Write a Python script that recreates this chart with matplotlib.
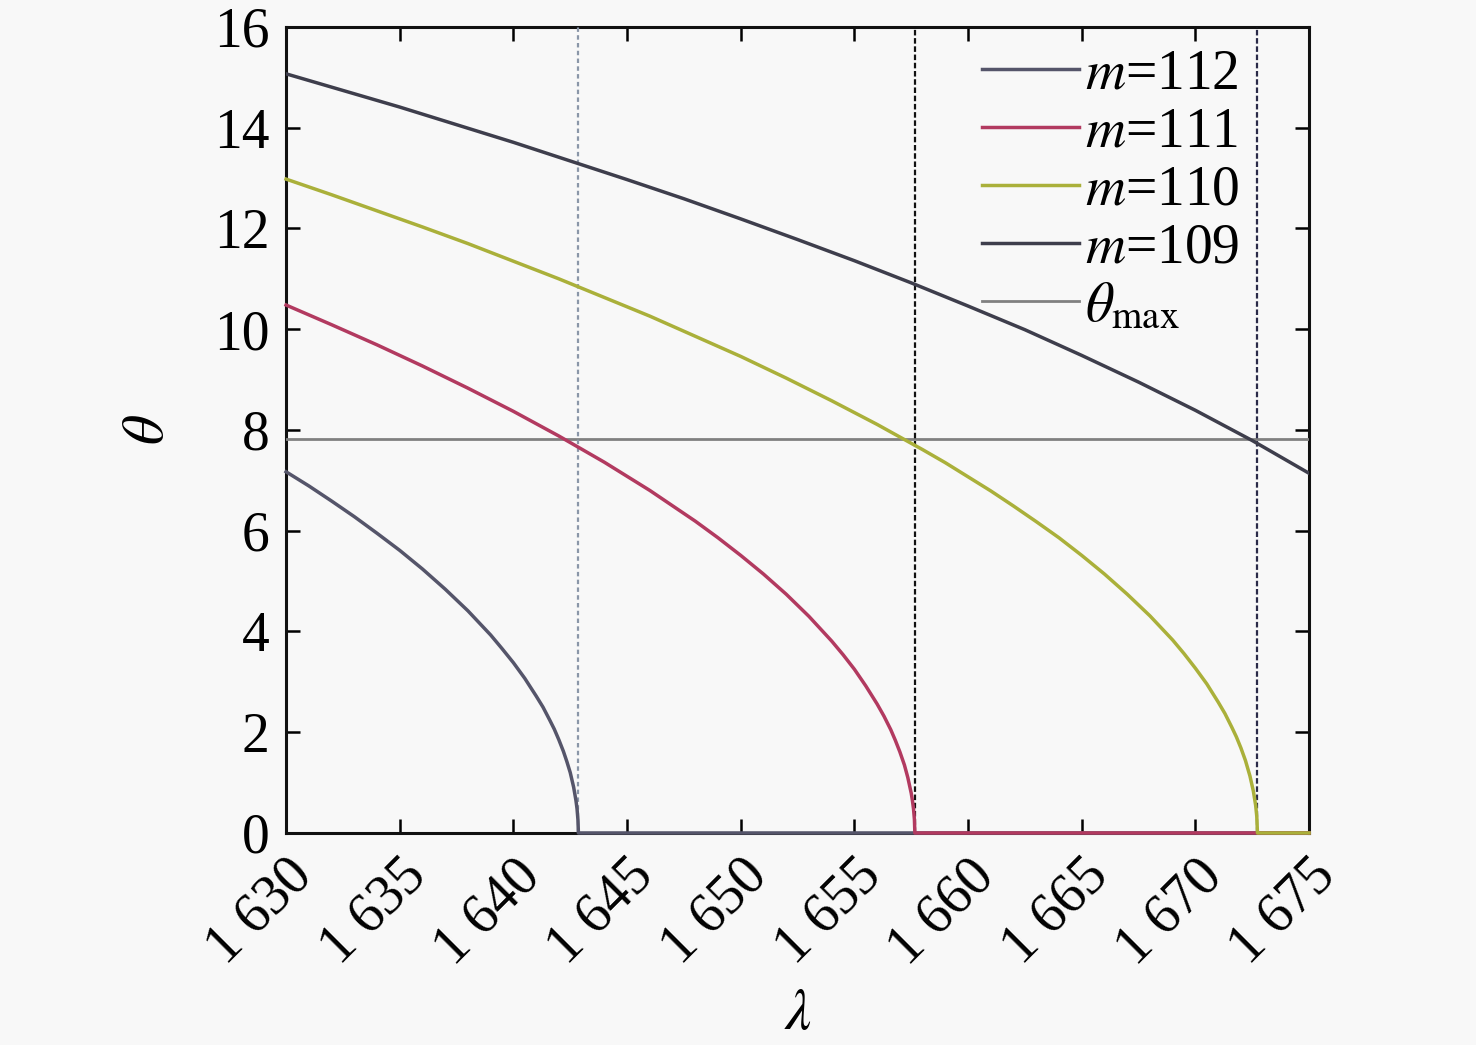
import matplotlib
matplotlib.use('Agg')
import matplotlib.pyplot as plt
from matplotlib.ticker import FuncFormatter

plt.rcParams['font.family'] = ['Liberation Serif', 'DejaVu Serif']
plt.rcParams['mathtext.fontset'] = 'stix'

# readings from the chart (lambda, theta)
lam_112 = [1630, 1631, 1632, 1633, 1634, 1635, 1636, 1637, 1638, 1638.5, 1639, 1639.5, 1640,
           1640.5, 1641, 1641.3, 1641.6, 1641.8, 1642, 1642.2, 1642.35, 1642.5, 1642.65,
           1642.75, 1642.8, 1642.84, 1642.86, 1675]
th_112 = [7.17, 6.89, 6.59, 6.28, 5.95, 5.61, 5.24, 4.84, 4.41, 4.17, 3.93, 3.66, 3.38,
          3.07, 2.72, 2.50, 2.24, 2.06, 1.85, 1.62, 1.42, 1.20, 0.91,
          0.65, 0.48, 0.26, 0.0, 0.0]

lam_111 = [1630, 1632, 1634, 1636, 1638, 1640, 1642, 1644, 1646, 1648, 1649, 1650, 1651, 1652,
           1653, 1654, 1654.5, 1655, 1655.5, 1656, 1656.3, 1656.6, 1656.8, 1657, 1657.2,
           1657.35, 1657.5, 1657.55, 1657.6, 1657.64, 1657.66, 1675]
th_111 = [10.48, 10.09, 9.69, 9.27, 8.83, 8.37, 7.88, 7.36, 6.80, 6.19, 5.86, 5.51, 5.14, 4.74,
          4.30, 3.81, 3.54, 3.25, 2.92, 2.56, 2.32, 2.05, 1.84, 1.61, 1.35,
          1.10, 0.79, 0.65, 0.48, 0.27, 0.0, 0.0]

lam_110 = [1630, 1632, 1634, 1636, 1638, 1640, 1642, 1644, 1646, 1648, 1650, 1652, 1654, 1656,
           1657, 1658, 1659, 1660, 1661, 1662, 1663, 1664, 1665, 1666, 1667, 1668, 1668.5,
           1669, 1669.5, 1670, 1670.5, 1671, 1671.3, 1671.6, 1671.8, 1672, 1672.2, 1672.4,
           1672.55, 1672.65, 1672.7, 1672.73, 1675]
th_110 = [12.98, 12.67, 12.35, 12.03, 11.70, 11.35, 11.00, 10.63, 10.26, 9.86, 9.46, 9.03, 8.58, 8.11,
          7.86, 7.61, 7.35, 7.07, 6.79, 6.49, 6.18, 5.86, 5.51, 5.14, 4.74, 4.31, 4.07,
          3.83, 3.56, 3.27, 2.96, 2.60, 2.37, 2.10, 1.91, 1.69, 1.44, 1.13,
          0.83, 0.55, 0.33, 0.0, 0.0]

lam_109 = [1630, 1632.5, 1635, 1637.5, 1640, 1642.5, 1645, 1647.5, 1650, 1652.5, 1655, 1657.5,
           1660, 1662.5, 1665, 1667.5, 1670, 1672.5, 1675]
th_109 = [15.07, 14.74, 14.41, 14.06, 13.71, 13.34, 12.97, 12.59, 12.19, 11.78, 11.36, 10.92,
          10.46, 9.99, 9.48, 8.95, 8.39, 7.79, 7.14]

theta_max = 7.82
cutoffs = [1642.86, 1657.66, 1672.73]

fig = plt.figure(figsize=(14.76, 10.45), dpi=100, facecolor='#f8f8f8')
ax = fig.add_axes([0.1938, 0.2029, 0.6931, 0.7713])
ax.set_facecolor('#f8f8f8')

lw = 2.5
ax.plot(lam_112, th_112, color='#55556a', lw=lw, label=r'$m$=112', clip_on=False, zorder=4)
ax.plot(lam_111, th_111, color='#b23a60', lw=lw, label=r'$m$=111', clip_on=False, zorder=5)
ax.plot(lam_110, th_110, color='#aab03a', lw=lw, label=r'$m$=110', clip_on=False, zorder=6)
ax.plot(lam_109, th_109, color='#3e3e4c', lw=lw, label=r'$m$=109', zorder=4)
ax.axhline(theta_max, color='#808080', lw=2, label=r'$\theta_{\rm max}$', zorder=3)

ax.axvline(cutoffs[0], color='#8a96a8', lw=1.6, ls=(0, (2, 1.5)), zorder=3)
ax.axvline(cutoffs[1], color='#111111', lw=1.6, ls=(0, (2.5, 1.2)), zorder=3)
ax.axvline(cutoffs[2], color='#2a2a48', lw=1.6, ls=(0, (2.5, 1.2)), zorder=3)

ax.set_xlim(1630, 1675)
ax.set_ylim(0, 16)
ax.set_xticks(range(1630, 1676, 5))
ax.set_yticks(range(0, 17, 2))
ax.xaxis.set_major_formatter(FuncFormatter(lambda v, p: '%d %03d' % (int(v) // 1000, int(v) % 1000)))

ax.tick_params(direction='in', length=10, width=1.8, top=True, right=True, labelsize=40, pad=12)
for lab in ax.get_xticklabels():
    lab.set_rotation(45)
    lab.set_ha('right')
    lab.set_va('top')
    lab.set_rotation_mode('anchor')
for s in ax.spines.values():
    s.set_linewidth(2.2)
    s.set_color('#111111')

ax.set_xlabel(r'$\lambda$', fontsize=42, labelpad=10)
ax.set_ylabel(r'$\theta$', fontsize=42, labelpad=28)

ax.legend(loc='upper right', bbox_to_anchor=(0.975, 1.029), frameon=False, fontsize=40,
          handlelength=1.75, handletextpad=0.1, labelspacing=0.11, borderaxespad=0.6,
          borderpad=0.2)

fig.savefig('out.png', dpi=100, facecolor='#f8f8f8')
